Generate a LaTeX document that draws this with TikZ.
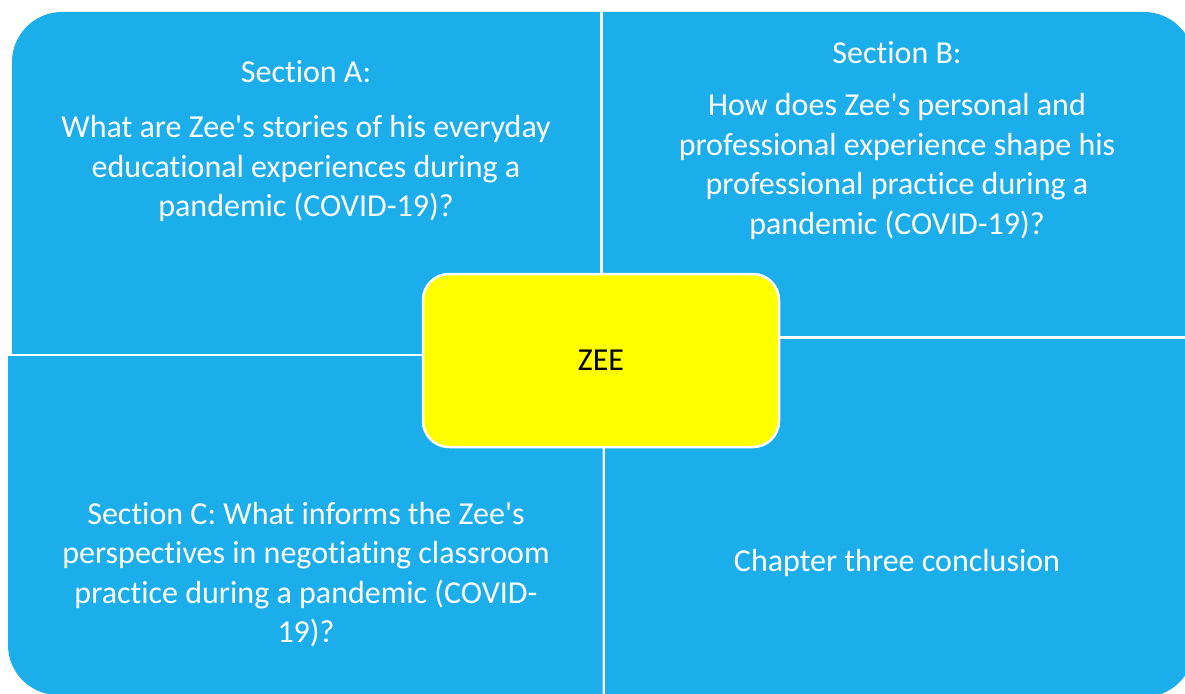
\documentclass[tikz,border=0pt]{standalone}
\usepackage{fontspec}
\setmainfont{Carlito}[Ligatures={TeXOff,NoCommon}]
\definecolor{quadblue}{RGB}{28,173,235}
\definecolor{zeeyellow}{RGB}{255,255,0}
\tikzset{
  quad/.style={fill=quadblue, rounded corners=50pt},
  sectiontext/.style={text=white, align=center, inner sep=0pt,
                      font=\fontsize{32}{39.5}\selectfont},
  zeebox/.style={fill=zeeyellow, draw=white, line width=2.5pt,
                 rounded corners=26pt, minimum width=356pt,
                 minimum height=173pt, inner sep=0pt,
                 font=\fontsize{32}{39.5}\selectfont},
}
\begin{document}
\begin{tikzpicture}[x=1pt,y=-1pt]
  \useasboundingbox (0,0) rectangle (1185,693);

  % the four quadrants, only the outer corner is rounded
  \begin{scope}
    \clip (0,0) rectangle (600,353);
    \fill[quad] (12,12) rectangle (800,600);
  \end{scope}
  \begin{scope}
    \clip (603,0) rectangle (1200,335.5);
    \fill[quad] (400,12) rectangle (1194,600);
  \end{scope}
  \begin{scope}
    \clip (0,356) rectangle (602.5,700);
    \fill[quad] (8,100) rectangle (800,695);
  \end{scope}
  \begin{scope}
    \clip (605,339) rectangle (1200,700);
    \fill[quad] (400,100) rectangle (1194,697);
  \end{scope}

  % section texts
  \node[sectiontext] (secA) at (306,141)
    {Section A:\\[16pt]
     What are Zee's stories of his everyday\\
     educational experiences during a\\
     pandemic (COVID-19)?};
  \node[sectiontext] (secB) at (897,140.5)
    {Section B:\\[13pt]
     How does Zee's personal and\\
     professional experience shape his\\
     professional practice during a\\
     pandemic (COVID-19)?};
  \node[sectiontext] (secC) at (306,574.5)
    {Section C: What informs the Zee's\\
     perspectives in negotiating classroom\\
     practice during a pandemic (COVID-\\
     19)?};
  \node[sectiontext] (concl) at (897,563) {Chapter three conclusion};

  % centre box
  \node[zeebox] (zee) at (601,360.5) {ZEE};
\end{tikzpicture}
\end{document}
